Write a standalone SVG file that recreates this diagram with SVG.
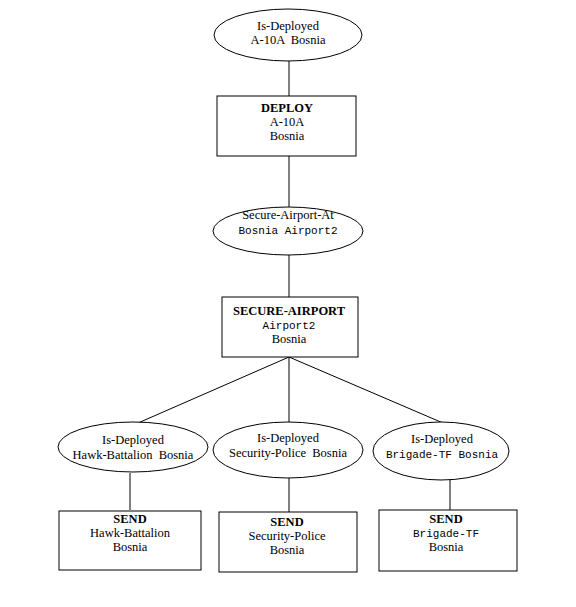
<svg xmlns="http://www.w3.org/2000/svg" width="576" height="607" viewBox="0 0 576 607">
<style>
.s{fill:#fff;stroke:#000;stroke-width:1}
.c line{stroke:#000;stroke-width:1}
text{font-family:"Liberation Serif","Times New Roman",serif;font-size:12.5px;fill:#000;text-anchor:middle}
.b{font-weight:bold}
.m{font-family:"Liberation Mono","Courier New",monospace;font-size:11px}
</style>
<rect width="576" height="607" fill="#fff"/>
<g class="c" id="connectors">
<line x1="289" y1="61" x2="289" y2="96"/>
<line x1="289" y1="156" x2="289" y2="207"/>
<line x1="289" y1="255" x2="289" y2="297"/>
<line x1="289" y1="357" x2="138" y2="423"/>
<line x1="289" y1="357" x2="289" y2="423"/>
<line x1="289" y1="357" x2="443" y2="423"/>
<line x1="130" y1="473" x2="130" y2="510"/>
<line x1="289" y1="478" x2="289" y2="512"/>
<line x1="450" y1="480" x2="450" y2="510"/>
</g>
<g id="n1">
<ellipse class="s" cx="288" cy="35" rx="74" ry="26"/>
<text x="288" y="30">Is-Deployed</text>
<text x="288" y="44" xml:space="preserve">A-10A  Bosnia</text>
</g>
<g id="n2">
<rect class="s" x="217" y="96" width="139" height="60"/>
<text x="287" y="112" class="b">DEPLOY</text>
<text x="287" y="126">A-10A</text>
<text x="287" y="140">Bosnia</text>
</g>
<g id="n3">
<ellipse class="s" cx="288" cy="231" rx="75" ry="24"/>
<text x="288" y="219">Secure-Airport-At</text>
<text x="288" y="234" class="m">Bosnia Airport2</text>
</g>
<g id="n4">
<rect class="s" x="222" y="297" width="136" height="60"/>
<text x="289" y="315" class="b">SECURE-AIRPORT</text>
<text x="289" y="329" class="m">Airport2</text>
<text x="289" y="343">Bosnia</text>
</g>
<g id="n5">
<ellipse class="s" cx="133" cy="447" rx="75" ry="25"/>
<text x="133" y="444">Is-Deployed</text>
<text x="133" y="459" xml:space="preserve">Hawk-Battalion  Bosnia</text>
</g>
<g id="n6">
<ellipse class="s" cx="288" cy="450" rx="75" ry="28"/>
<text x="288" y="442">Is-Deployed</text>
<text x="288" y="457" xml:space="preserve">Security-Police  Bosnia</text>
</g>
<g id="n7">
<ellipse class="s" cx="441" cy="451" rx="68" ry="29"/>
<text x="442" y="443">Is-Deployed</text>
<text x="442" y="458" class="m">Brigade-TF Bosnia</text>
</g>
<g id="n8">
<rect class="s" x="59" y="511" width="142" height="59"/>
<text x="130" y="523" class="b">SEND</text>
<text x="130" y="537">Hawk-Battalion</text>
<text x="130" y="551">Bosnia</text>
</g>
<g id="n9">
<rect class="s" x="219" y="512" width="138" height="60"/>
<text x="287" y="526" class="b">SEND</text>
<text x="287" y="540">Security-Police</text>
<text x="287" y="554">Bosnia</text>
</g>
<g id="n10">
<rect class="s" x="379" y="510" width="138" height="61"/>
<text x="446" y="523" class="b">SEND</text>
<text x="446" y="537" class="m">Brigade-TF</text>
<text x="446" y="551">Bosnia</text>
</g>
</svg>
